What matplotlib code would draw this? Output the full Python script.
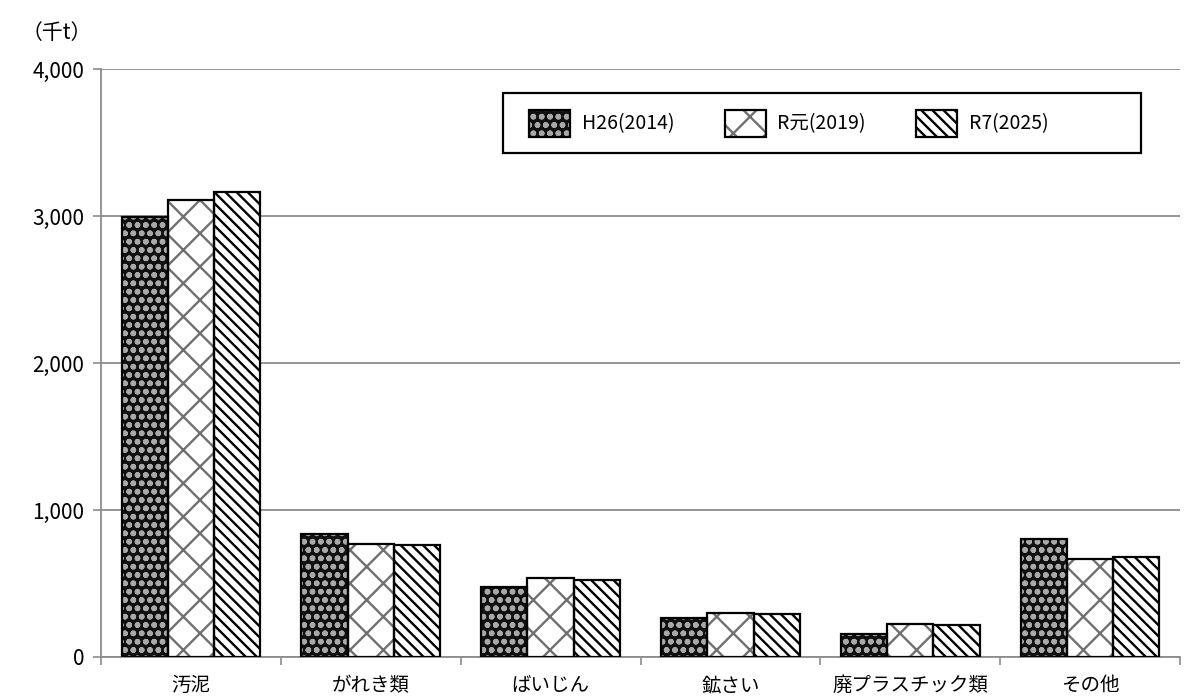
import numpy as np
import matplotlib
matplotlib.use("Agg")
import matplotlib.pyplot as plt
from matplotlib.patches import Patch, Rectangle
from matplotlib.legend_handler import HandlerTuple

plt.rcParams['font.family'] = ['Noto Sans CJK JP', 'DejaVu Sans']
plt.rcParams['hatch.linewidth'] = 1.7

# 種類別の排出量（千t）
categories = ["汚泥", "がれき類", "ばいじん", "鉱さい", "廃プラスチック類", "その他"]
years = ["H26(2014)", "R元(2019)", "R7(2025)"]
h26 = [2990, 837, 477, 267, 154, 801]
r01 = [3110, 769, 534, 301, 222, 666]
r07 = [3165, 762, 523, 293, 218, 677]
series = [h26, r01, r07]

# 年度ごとの塗り（地色, 模様, 模様の色）
styles = [
    ("#101010", "oo", "#a8a8a8"),
    ("white", "x", "#707070"),
    ("white", "\\\\\\", "black"),
]

fig = plt.figure(figsize=(11.89, 6.97), dpi=100)
ax = fig.add_axes([0.085, 0.0574, 0.9074, 0.8436])

x = np.arange(len(categories))
w = 0.257
for i, vals in enumerate(series):
    fc, hatch, hc = styles[i]
    pos = x + (i - 1) * w
    ax.bar(pos, vals, w, color=fc, edgecolor=hc, hatch=hatch, linewidth=0, zorder=3)
    ax.bar(pos, vals, w, fill=False, edgecolor="black", linewidth=1.6, zorder=4)

ax.set_xlim(-0.5, len(categories) - 0.5)
ax.set_ylim(0, 4000)
ax.set_yticks([0, 1000, 2000, 3000, 4000])
ax.set_yticklabels(["0", "1,000", "2,000", "3,000", "4,000"], fontsize=15)
ax.set_xticks(x)
ax.set_xticklabels(categories, fontsize=14)
ax.set_xticks(np.arange(-0.5, len(categories)), minor=True)
ax.tick_params(axis="x", which="major", length=0, pad=13)
ax.tick_params(axis="x", which="minor", length=6, color="#8c8c8c", width=1.2)
ax.tick_params(axis="y", length=6, color="#8c8c8c", width=1.2, pad=6)

ax.grid(axis="y", color="#8c8c8c", linewidth=1.3, zorder=0)
for s in ["top", "right"]:
    ax.spines[s].set_visible(False)
for s in ["left", "bottom"]:
    ax.spines[s].set_color("#8c8c8c")
    ax.spines[s].set_linewidth(1.3)

fig.text(0.018, 0.953, "（千t）", fontsize=15, ha="left", va="center")

# 凡例の枠
ax.add_patch(Rectangle((0.3726, 0.857), 0.5914, 0.102, transform=ax.transAxes,
                       facecolor="white", edgecolor="black", linewidth=1.6,
                       zorder=5, clip_on=False))

# 凡例は模様と枠線を重ねて表示
handles = []
for fc, hatch, hc in styles:
    p1 = Patch(facecolor=fc, edgecolor=hc, hatch=hatch, linewidth=0)
    p2 = Patch(fill=False, edgecolor="black", linewidth=1.6)
    handles.append((p1, p2))

leg = ax.legend(handles, years, handler_map={tuple: HandlerTuple(ndivide=1)},
                loc="center left", bbox_to_anchor=(0.397, 0.908),
                ncol=3, fontsize=14, handlelength=2.1, handleheight=1.75,
                handletextpad=0.6, columnspacing=2.6, borderpad=0, borderaxespad=0,
                frameon=False)
leg.set_zorder(6)

fig.savefig("out.png", dpi=100)
